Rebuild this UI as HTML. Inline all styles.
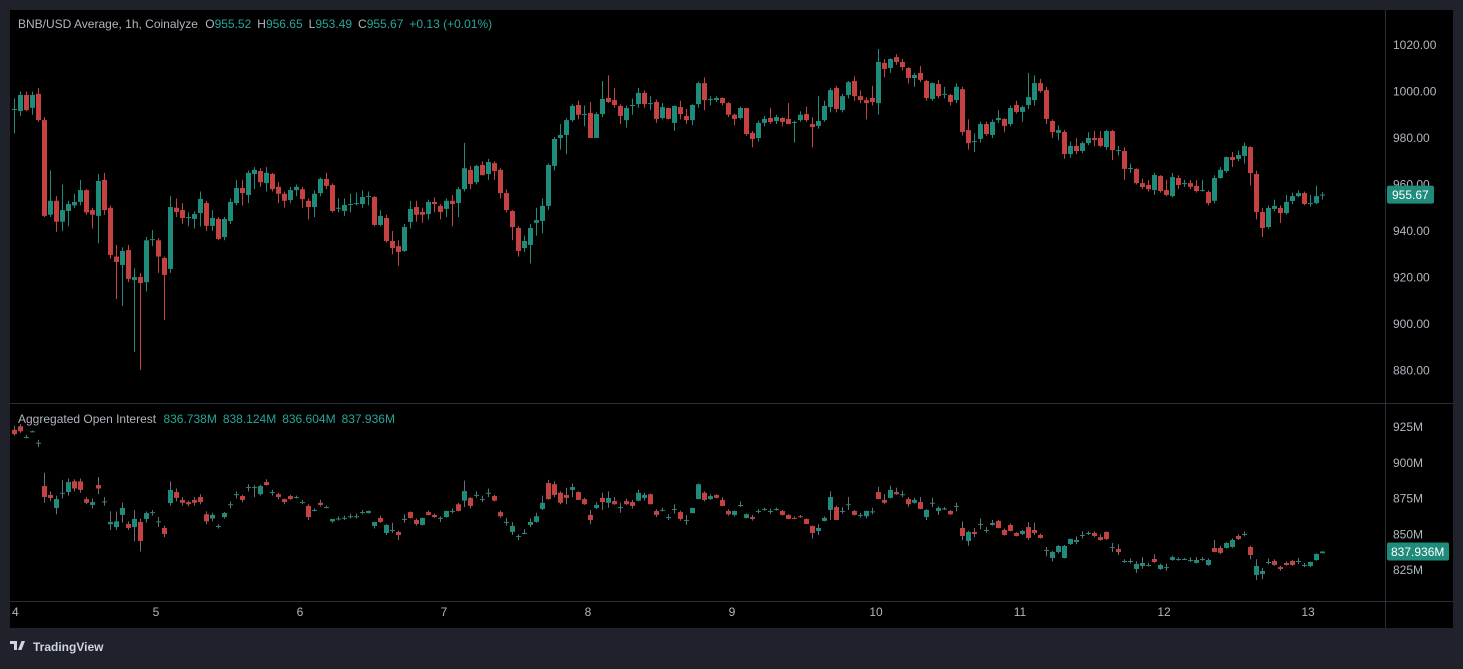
<!DOCTYPE html>
<html><head><meta charset="utf-8">
<style>
html,body{margin:0;padding:0;background:#1f222b;width:1463px;height:664px;overflow:hidden;font-family:"Liberation Sans",sans-serif;}
#wrap{position:absolute;left:0;top:0;width:1463px;height:664px;}
svg text{font-family:"Liberation Sans",sans-serif;}
</style></head>
<body>
<div id="wrap">
<svg id="chart" width="1463" height="664" xmlns="http://www.w3.org/2000/svg">
  <rect x="10" y="10" width="1443" height="618" fill="#000"/>
  <line x1="1385.5" y1="10" x2="1385.5" y2="628" stroke="#2a2e39"/>
  <line x1="10" y1="403.5" x2="1453" y2="403.5" stroke="#2a2e39"/>
  <line x1="10" y1="601.5" x2="1453" y2="601.5" stroke="#2a2e39"/>
  <g id="priceMarks"></g>
  <g id="oiMarks"></g>
  <g id="axes"></g>
  <text x="18" y="28" font-size="12" fill="#b2b5be">BNB/USD Average, 1h, Coinalyze <tspan dx="4">O</tspan><tspan fill="#26a69a">955.52</tspan><tspan dx="6">H</tspan><tspan fill="#26a69a">956.65</tspan><tspan dx="6">L</tspan><tspan fill="#26a69a">953.49</tspan><tspan dx="6">C</tspan><tspan fill="#26a69a">955.67</tspan><tspan dx="6" fill="#26a69a">+0.13 (+0.01%)</tspan></text>
  <text x="18" y="423" font-size="12" fill="#b2b5be">Aggregated Open Interest <tspan dx="4" fill="#26a69a">836.738M</tspan><tspan dx="6" fill="#26a69a">838.124M</tspan><tspan dx="6" fill="#26a69a">836.604M</tspan><tspan dx="6" fill="#26a69a">837.936M</tspan></text>
  <g>
    <path d="M10 641 h7 v9 h-3 v-6 h-4z M18 650 l3.5-9 h3.5 l-3.5 9z" fill="#d1d4dc"/>
    <text x="33" y="651" font-size="12" font-weight="bold" fill="#d1d4dc">TradingView</text>
  </g>
</svg>
</div>
<script>
const priceTicks = [1020, 1000, 980, 960, 940, 920, 900, 880];
const oiTicks = [925, 900, 875, 850, 825];
const dayLabels = ["4", "5", "6", "7", "8", "9", "10", "11", "12", "13"];
const priceOHLC = [
[992.5,997,982,992.5],[991.6,1000,989.5,998.5],[998.5,1000,991.5,992],[993,1000,990,998.5],[999,1001.5,987,987.7],
[987.7,989,946,946.5],[947,966,946,953],[953,955,939.6,944],[944,960,940,949],[948.6,953,942,951.6],
[951,956,950,952.5],[952.5,962,951,957.6],[957.6,958,947,948],[949,950,941,947],[946.5,964.5,934.8,961.5],
[962,965,947,949],[950,951,928,929.7],[929,934,910.7,926.7],[925.4,933,907.7,931.4],[931.8,934,918,919.4],
[918.9,924,888,920.2],[920.2,922,880.2,917.6],[918,937.5,914,936],[936.5,940.5,933.5,936.5],[936,937,922,929],
[928.4,929,901.7,921.1],[923.7,955,922,950.3],[950,954,946,948.2],[949,952,943,945.6],[946,948,942,946],
[945.2,948.5,941,947.3],[947.7,957,942,953.8],[952,953,940,942.2],[942.2,949,940,945.6],[945.2,946,936,936.6],
[937.4,946,936,945.2],[944.3,954,943,952.5],[952,962,951,958.5],[958.5,962,951,956.3],[955.5,966,952,965],
[964.5,967.5,958,966.3],[965.8,967,959,961],[960.6,967.5,957,965],[964.5,965,957,958],[959,961,952,956],
[956,957,950,953],[953.3,959,952,957.6],[957.6,960,955,959],[958,959,950,953.7],[953,954,945,950.3],
[950.3,957.5,946,956],[956.3,963,955,962.4],[962.4,965,958,959.4],[959.8,960.5,948,948.6],[950,954,948,950],
[948.6,954,946.5,951.2],[951.2,956,948,951.6],[952,956.5,951,952],[951.6,957.5,950,954.6],[955,957,951,955],
[954.6,955,942,942.6],[942.6,949,942,946.5],[945.6,947,935,935.7],[935.7,940,930,932.7],[933.5,936,925,931],
[931.4,943,931,941.7],[943.9,953,941,949.5],[950.3,953,944,947],[948.2,950,943.5,947],[947.3,953.5,945,952.5],
[952.5,954.5,948,951.6],[950.8,951.5,945,948.2],[949.5,954,946,953],[953,955.5,942,951.6],[952,959,946,958],
[958,977.9,957,967],[966.3,968,958,960.2],[961,968.5,960,968],[968.4,970,964,964],[964.5,971,962,969.7],
[969.2,970,962,965.8],[966.3,967,954,956.3],[956.3,958,948,949],[948.6,949,936,941.7],[941.3,942,929,931.4],
[932.7,938,931,935.7],[934,943,926,941.3],[943.5,950,938,944.7],[944.3,954,939,950.8],[950.8,969,949,968.4],
[968,980.5,966,979.6],[980,986,975,981.3],[981.3,988.5,973,987.7],[987.7,994.5,987,993.8],[994.2,996,988,990],
[990.3,994,985,990.3],[990.8,995.5,980,980],[980,991,980,990.3],[990.3,1004.5,989,996.8],[997.2,1007,995,995.5],
[996.3,1001.5,993,994.2],[993.8,994.5,986,989.5],[987.7,994,984.5,992.9],[994.2,997,990,994.2],[994.6,1001.5,993,999.4],
[999.4,1000.5,993,994.6],[995,998,992,995],[995.5,996.5,986.5,988.2],[988.6,995,988,993.3],[992.9,993,988,988.2],
[986.5,994,983,993.8],[993.3,996,988,990.3],[989.5,992.5,986,987.7],[987.7,994.5,985.5,994.2],[994.6,1004.2,993,1003.6],
[1003.6,1006,992,996.3],[996.8,998,994,996.8],[996.3,998,995.5,997.2],[997.2,997.5,994,995],[995,995.5,989,990],
[990,990.5,985.5,988.2],[988.6,993.5,988,992.9],[992.9,993,981,981.7],[982.2,983,976,979.6],[980,987.5,978.5,986.5],
[986.5,989.5,985,988.2],[988.6,993,986,986.9],[987.3,990,986,989],[988.6,989,985,986.9],[988.2,995,986,986],
[986.9,987.5,978,986.9],[987.7,991.5,987,990],[990.3,993.5,987,987.7],[986,989,976,984.7],[985.2,998,984,987.3],
[987.7,996,987,993.8],[993.3,1001.5,991,1000.6],[1001.5,1002.5,991,992.5],[992,999,991,998],[998.5,1004.5,997,1004],
[1004.5,1006.5,996,998],[998,1000.5,995,996.3],[996.3,997.5,988,995],[997.2,1002.5,994,995.5],[995,1018.3,990,1012.7],
[1012.3,1014,1006,1009.7],[1010.1,1014.3,1008,1014],[1014.8,1016,1011.5,1012.7],[1012.7,1014,1009,1010.5],[1010.1,1010.5,1003.5,1005.8],
[1005.8,1008,1002,1007.1],[1008,1011,1004,1005],[1004.5,1005,996,997.2],[996.8,1004,996,1003.6],[1003.2,1005,997,998],
[999,1002,997,999],[998.5,999,994,995.5],[996.3,1003.5,995,1002],[1001,1002,981,982.6],[983.4,988,975,977.8],
[978.7,982,974,978.7],[979.6,987,978,986],[986,987,981,981.7],[981.3,988,980,986.9],[987.7,992,986.5,988.6],
[988.2,988.5,982.5,985.2],[986,994,985,992.9],[994.2,996,990.5,991.2],[991.2,994,987,993.3],[994.2,1008,992.5,997.6],
[996.3,1007,994,1003.6],[1003.6,1005.5,999.5,1000.2],[1000.6,1002,986,988.2],[987.3,988,980,982.6],[982.2,985.5,979,983.4],
[982.6,983.5,971,973.1],[973.1,978.5,971.5,976.6],[976.6,980,973,974.4],[974.4,978.5,973.5,977.8],[977.8,982.5,977,980],
[980,983,976.5,979.1],[980,983,976,976.6],[976.1,983.5,975,983],[983,983.5,970.5,974.8],[974.8,976.5,972.5,974.8],
[974.4,976,962,966.7],[967.1,969,965,967.1],[966.7,967,960,960.6],[960.6,962.5,958,958.9],[959.8,962,957,958],
[957.6,965,955.5,964.1],[963.7,964,956.5,957.2],[957.6,962,955,955.5],[955,965,954.5,963.2],[962.8,964,958,959.8],
[960.6,962,959,960.6],[960.6,962,958,959],[959.4,962,956.5,957.2],[957.6,962,957,957.6],[956.8,957.5,951,952],
[953,964,952,962.8],[962.8,967.5,962.5,966.3],[965.8,972,965,971.8],[971.8,974,967.5,970.5],[971,974.5,970,972.7],
[972.3,978,969,976.6],[976.1,976.5,959.5,964.9],[964.5,966,945,948.2],[948.2,950,937.4,941.3],[941.7,951,941,949.9],
[949.5,953.5,948.5,950.8],[949.9,951,943.5,947.7],[947.7,955.5,947,952.5],[952.9,956.5,951.5,955],[955,957.5,954.5,956.3],
[956.3,957,951,951.6],[952,955.5,950.5,952],[952,959.5,951.5,955],[955.52,956.65,953.49,955.67]
];
const oiOHLC = [
[923,926,919,920],[925.5,927,921,922],[918,919.5,917,918],[922,922.5,921.5,922],[914,916,911,914],
[883.7,893,872,876],[877.5,880,873,875.4],[868.4,877,864,874.6],[879,888,875,879],[879.5,889,877,886.5],
[887,888.5,880,882],[887,889,879,881],[874.6,876,871,872],[870.5,875,868,872.5],[884.4,890,878,882],
[873,876,870,873],[857,866,853,858.6],[855,866,853,859],[863.5,872,858,868.4],[857.2,859,853,854.4],
[855,867,845,860.7],[858.6,861,838,845.3],[860.7,866,858,864.8],[865.5,867,863,865.5],[859,862,855,859],
[854.4,856,848,850.2],[871.8,887,870,881],[879.5,882,873,875.4],[874,876,870,872],[872.5,873.5,869.5,871],
[874,876,870,872],[876,878,871,872.5],[864,866,857,859],[861,865,859,863.5],[855.8,857,854,855.8],
[862,865.5,861,864.8],[871,873,868,871],[878,880,875,878],[876.7,877.5,872.5,874],[883,885,880,883],
[883,884.5,876,883],[878,884.5,877,883.7],[886.5,888.5,884,884.4],[879.5,881,877,879.5],[878,879,874.5,876],
[874.6,875,871,872.5],[876.7,877.5,874,874.6],[876,877,875,876],[872.5,874,871,872.5],[869.8,871,860,862],
[867,868,866,867],[872,874,869.5,870.5],[869,870,868,869],[859,860.7,858,860.7],[861,862.5,859.5,861],
[861.5,863,860,861.5],[862.6,864.5,861,862.6],[862.6,864.5,861,862.6],[865.5,867,864,865.5],[864.8,866.5,864.5,866.3],
[855.8,858.6,854,858.6],[861.4,863,858,858.6],[850.9,857,849.5,856.5],[853,858,851,853],[851.6,852.5,846,849.5],
[860.7,864,858,860.7],[865.5,866,861,861.4],[860,861,856,857.2],[856.5,861.5,856,861.4],[865.5,866.5,863,863.5],
[863.5,864.5,861.5,862],[861.4,862.5,858.5,861.4],[862,866.5,861.5,866.3],[866.3,868,864.5,866.3],[871,872,866,866.3],
[873.5,887.5,869,880.2],[875.4,876,868,869.8],[877.5,880,875.5,877.5],[874.6,877,872.5,874.6],[879,882,876,879],
[876.7,877.5,873,873.5],[865.5,866.5,861.5,862.6],[858.6,861.5,856,858.6],[851.6,858.5,849.5,855.8],[848.8,850,846,848.8],
[850.9,853.5,850,850.9],[856.5,861,855,858.6],[858.6,865,858,862.6],[867.7,877,867,872],[885.8,888,874,874.6],
[885,887,876,877.5],[879,880,871,872],[877.5,882.5,871,875.4],[881,885.5,876,883],[879.5,880,874,874],
[874.6,875.5,870.5,871],[863.5,867,857,860],[868.4,872.5,867.5,870.5],[875.4,879,867,872.5],[872,880,868.5,875.4],
[873.2,876,870.5,871],[869,872,865,869],[873.2,875,870.5,871],[872.5,874,868,869.8],[873.5,881,873,879],
[875.4,879,873.5,877.5],[878,878.5,871,871],[866.3,867.5,862,863.5],[867,868.5,866,867],[862,864,860,862],
[867.7,871,864.5,867.7],[865.5,866.5,859.5,860.7],[860,863.5,856.5,860],[864.8,868.5,864.5,868.4],[874.6,885.5,874.5,885],
[879,880,873,874],[874.6,878,874,876.7],[877.5,878,875,875.4],[874,876,869.5,869.8],[866.3,867.5,863,864],
[863.5,866.5,862.5,866.3],[870.5,873,869,870.5],[861.4,864.5,861,864],[862,863.5,859.5,860.7],[866.3,867.5,864.5,866.3],
[867.7,868.5,866.5,867.7],[866.3,868,864,866.3],[867.7,868.5,866.5,867.7],[866.3,867,863,863.5],[863.5,864,860.5,860.7],
[861.4,862.5,860.5,860.7],[862.6,863.5,861.5,862],[860.7,861,857,857.2],[855.8,856,847,850.9],[852.3,857,849.5,854.4],
[859.3,862.5,859,861.4],[867,880,860,876],[869,870,860,860],[866.3,869,864.5,866.3],[871,876,867,871],
[866.3,867,863,863.5],[863.5,865,861.5,863.5],[862.6,866.5,861,866.3],[866,868.5,864,866],[879.5,883,874.5,874.6],
[874,878,871,872],[875.4,884,875,881],[879.5,882.5,877.5,878],[878,880.5,876,878],[874.6,876,869,871],
[872,875.5,871.5,874],[872.5,876,867.5,867.7],[862,867.5,860,867],[872,875.5,869,872],[866.3,869.5,863.5,868.4],
[868,869,867,868],[866.3,867,863.5,864],[869.8,872,866,869.8],[854.4,859,846,848.8],[845.3,852.5,842,851.6],
[851.6,854.5,848,850.2],[857.2,861,853.5,857.2],[853,855,851,853],[856.5,860,856,857.9],[859.3,860,854,854.4],
[853,854,849,849.5],[856.5,857.5,852,852.3],[850.9,851.5,848.5,848.8],[850.2,853,849.5,852.3],[855,858.5,846,847.4],
[853,858,849.5,850.9],[849.5,850.5,847,847.4],[839,841,834.5,839],[833.4,838.5,831,837.6],[837.6,842.5,836.5,841.8],
[833.4,842.5,833,841.8],[843.2,847,842.5,846.7],[844.6,848.5,843,846],[849.5,852,847,849.5],[850.9,852,849.5,850.9],
[850.9,852,848,848.8],[848,850,845.5,846],[851.6,852,846,846.7],[841,844,837.5,841],[839.7,843,835.5,837.6],
[831.3,832.5,830,831.3],[831.3,833,829.5,831.3],[825.7,831,823,829.2],[827.8,834,826,829.9],[828.5,830,827.5,828.5],
[832.7,836,830,830.6],[825.7,829.5,825,828.5],[827,829.5,824.5,827],[832,835,831.5,834],[832.7,834,831.5,832.7],
[832.7,833.5,832,832.7],[832,834,830.5,832],[830,834,829.5,832],[832.7,834,831.5,832.7],[828.5,833,828,832],
[840.4,846,838,837.6],[840.4,842,836,837],[840.4,844.5,840,843.9],[841.1,847,840.5,846],[848.8,850,846,846.7],
[850.2,852,848.5,850.2],[841.1,842,832.5,835.5],[821.5,832.5,818,827.8],[822.2,826.5,818.5,824.3],[830.6,833,829,830.6],
[831.3,832.5,828,828.5],[827,828,824.5,825.7],[829.9,831,828,828.5],[831.3,832,828,828.5],[831.3,833.5,829,831.3],
[828.5,830,827,828.5],[827.8,831,827,830.6],[832,836.5,831.5,836.2],[836.738,838.124,836.604,837.936]
];
const lastPriceLabel = "955.67";
const lastOiLabel = "837.936M";

const NS = "http://www.w3.org/2000/svg";
const UP = "#1f8b7b", DOWN = "#c54242";
function xOf(i){ return 14 + 6*i; }
function yPrice(p){ return 45 + (1020 - p) * 2.325; }
function yOi(v){ return 427 + (925 - v) * 1.43; }
function dayX(d){ return 12 + 144*d; }
function mk(tag, attrs, parent){
  const el = document.createElementNS(NS, tag);
  for (const k in attrs) el.setAttribute(k, attrs[k]);
  parent.appendChild(el);
  return el;
}
function drawCandles(data, yf, g, wickGray, name){
  data.forEach((c, i) => {
    const o = c[0], h = c[1], l = c[2], cl = c[3];
    const up = cl >= o;
    const col = up ? UP : DOWN;
    const x = xOf(i);
    const grp = mk("g", {}, g);
    
    
    mk("line", {x1:x+0.5, x2:x+0.5, y1:yf(h), y2:yf(l), stroke: wickGray ? "#6b6e78" : col, "stroke-width":1}, grp);
    const yt = yf(Math.max(o,cl)), yb = yf(Math.min(o,cl));
    mk("rect", {x:x-2, y:yt, width:5, height:Math.max(1, yb-yt), fill:col}, grp);
  });
}
drawCandles(priceOHLC, yPrice, document.getElementById("priceMarks"), false, "price-candle");
drawCandles(oiOHLC, yOi, document.getElementById("oiMarks"), true, "oi-candle");

const axes = document.getElementById("axes");
priceTicks.forEach(t => {
  const el = mk("text", {x:1393, y:yPrice(t)+4, "font-size":12, fill:"#b2b5be"}, axes);
  
  
  el.textContent = t.toFixed(2);
});
oiTicks.forEach(t => {
  const el = mk("text", {x:1393, y:yOi(t)+4, "font-size":12, fill:"#b2b5be"}, axes);
  
  
  el.textContent = t + "M";
});
dayLabels.forEach((d, i) => {
  const el = mk("text", {x:dayX(i), y:616, "font-size":12, fill:"#b2b5be", "text-anchor": i===0 ? "start" : "middle"}, axes);
  
  
  el.textContent = d;
});
const lp = priceOHLC[priceOHLC.length-1][3];
const pl = mk("g", {}, axes);


mk("rect", {x:1387, y:yPrice(lp)-9, width:47, height:18, rx:2, fill:"#1f8b7b"}, pl);
mk("text", {x:1392, y:yPrice(lp)+4.5, "font-size":12, fill:"#fff"}, pl).textContent = lastPriceLabel;
const lo = oiOHLC[oiOHLC.length-1][3];
const ol = mk("g", {}, axes);


mk("rect", {x:1387, y:yOi(lo)-9, width:62, height:18, rx:2, fill:"#1f8b7b"}, ol);
mk("text", {x:1391, y:yOi(lo)+4.5, "font-size":12, fill:"#fff"}, ol).textContent = lastOiLabel;
</script>
</body></html>
